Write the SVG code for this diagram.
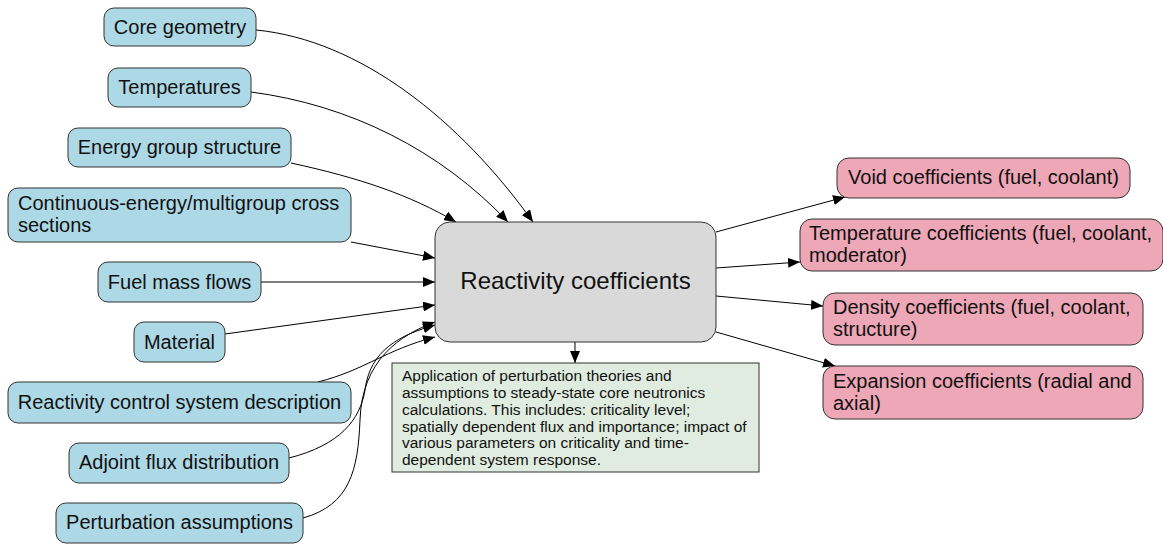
<svg xmlns="http://www.w3.org/2000/svg" width="1163" height="544" viewBox="0 0 1163 544">
  <style>
    .in rect { fill: #add8e6; stroke: #333; stroke-width: 1; }
    .out rect { fill: #eda7b6; stroke: #333; stroke-width: 1; }
    .hub rect { fill: #d9d9d9; stroke: #333; stroke-width: 1; }
    .note rect { fill: #e0ecdf; stroke: #333; stroke-width: 1; }
    text { font-family: "Liberation Sans", Arial, sans-serif; fill: #111; }
    .lbl { font-size: 20px; }
    .mid { text-anchor: middle; }
    .hubtxt { font-size: 24px; text-anchor: middle; }
    .notetxt { font-size: 15.5px; }
    .edges path { fill: none; stroke: #000; stroke-width: 1; marker-end: url(#arrow); }
  </style>
  <defs>
    <marker id="arrow" markerUnits="userSpaceOnUse" markerWidth="13" markerHeight="10" refX="12" refY="5" orient="auto">
      <path d="M0,0 L12,5 L0,10 Z" fill="#000"/>
    </marker>
  </defs>

  <!-- connectors -->
  <g class="edges">
    <path d="M256,30 C360,40 460,120 533,222"/>
    <path d="M251,92 C350,105 440,150 508,222"/>
    <path d="M291,163 C360,178 410,195 456,222"/>
    <path d="M351,242 L435,258"/>
    <path d="M261,282 L435,282"/>
    <path d="M225,334 L435,305"/>
    <path d="M318,382 C365,370 385,350 435,337"/>
    <path d="M289,458 C340,445 360,420 365,390 C370,350 400,335 435,325"/>
    <path d="M303,518 C350,505 358,470 360,420 C362,360 400,335 435,322"/>
    <path d="M575,342 L575,363"/>
    <path d="M716,232 L845,197"/>
    <path d="M716,268 L800,262"/>
    <path d="M716,296 L823,306"/>
    <path d="M716,332 L835,366"/>
  </g>

  <!-- inputs -->
  <g id="core-geometry" class="in"><rect x="104" y="8" width="152" height="38" rx="10"/><text class="lbl mid" x="180" y="34">Core geometry</text></g>
  <g id="temperatures" class="in"><rect x="108" y="68" width="143" height="39" rx="10"/><text class="lbl mid" x="179.5" y="94">Temperatures</text></g>
  <g id="energy-groups" class="in"><rect x="68" y="128" width="223" height="39" rx="10"/><text class="lbl mid" x="179.5" y="154">Energy group structure</text></g>
  <g id="cross-sections" class="in"><rect x="8" y="188" width="343" height="54" rx="10"/><text class="lbl" x="18" y="210">Continuous-energy/multigroup cross</text><text class="lbl" x="18" y="232">sections</text></g>
  <g id="fuel-mass-flows" class="in"><rect x="98" y="262" width="163" height="40" rx="10"/><text class="lbl mid" x="179.5" y="289">Fuel mass flows</text></g>
  <g id="material" class="in"><rect x="134" y="322" width="91" height="40" rx="10"/><text class="lbl mid" x="179.5" y="349">Material</text></g>
  <g id="control-system" class="in"><rect x="8" y="382" width="343" height="41" rx="10"/><text class="lbl mid" x="179.5" y="409">Reactivity control system description</text></g>
  <g id="adjoint-flux" class="in"><rect x="69" y="443" width="220" height="40" rx="10"/><text class="lbl mid" x="179" y="469">Adjoint flux distribution</text></g>
  <g id="perturbation" class="in"><rect x="56" y="503" width="247" height="40" rx="10"/><text class="lbl mid" x="179.5" y="529">Perturbation assumptions</text></g>

  <!-- central node -->
  <g id="reactivity-coefficients" class="hub"><rect x="435" y="222" width="281" height="120" rx="15"/><text class="hubtxt" x="575.5" y="289">Reactivity coefficients</text></g>

  <!-- description -->
  <g id="description" class="note">
    <rect x="392" y="363" width="367" height="109"/>
    <text class="notetxt" x="402" y="381">Application of perturbation theories and</text>
    <text class="notetxt" x="402" y="398">assumptions to steady-state core neutronics</text>
    <text class="notetxt" x="402" y="415">calculations. This includes: criticality level;</text>
    <text class="notetxt" x="402" y="432">spatially dependent flux and importance; impact of</text>
    <text class="notetxt" x="402" y="448">various parameters on criticality and time-</text>
    <text class="notetxt" x="402" y="465">dependent system response.</text>
  </g>

  <!-- outputs -->
  <g id="void" class="out"><rect x="837" y="158" width="293" height="40" rx="12"/><text class="lbl mid" x="983.5" y="184">Void coefficients (fuel, coolant)</text></g>
  <g id="temperature" class="out"><rect x="800" y="219" width="363" height="52" rx="12"/><text class="lbl" x="809" y="240">Temperature coefficients (fuel, coolant,</text><text class="lbl" x="809" y="262">moderator)</text></g>
  <g id="density" class="out"><rect x="823" y="293" width="320" height="52" rx="12"/><text class="lbl" x="833" y="314">Density coefficients (fuel, coolant,</text><text class="lbl" x="833" y="336">structure)</text></g>
  <g id="expansion" class="out"><rect x="823" y="366" width="320" height="53" rx="12"/><text class="lbl" x="833" y="388">Expansion coefficients (radial and</text><text class="lbl" x="833" y="410">axial)</text></g>
</svg>
